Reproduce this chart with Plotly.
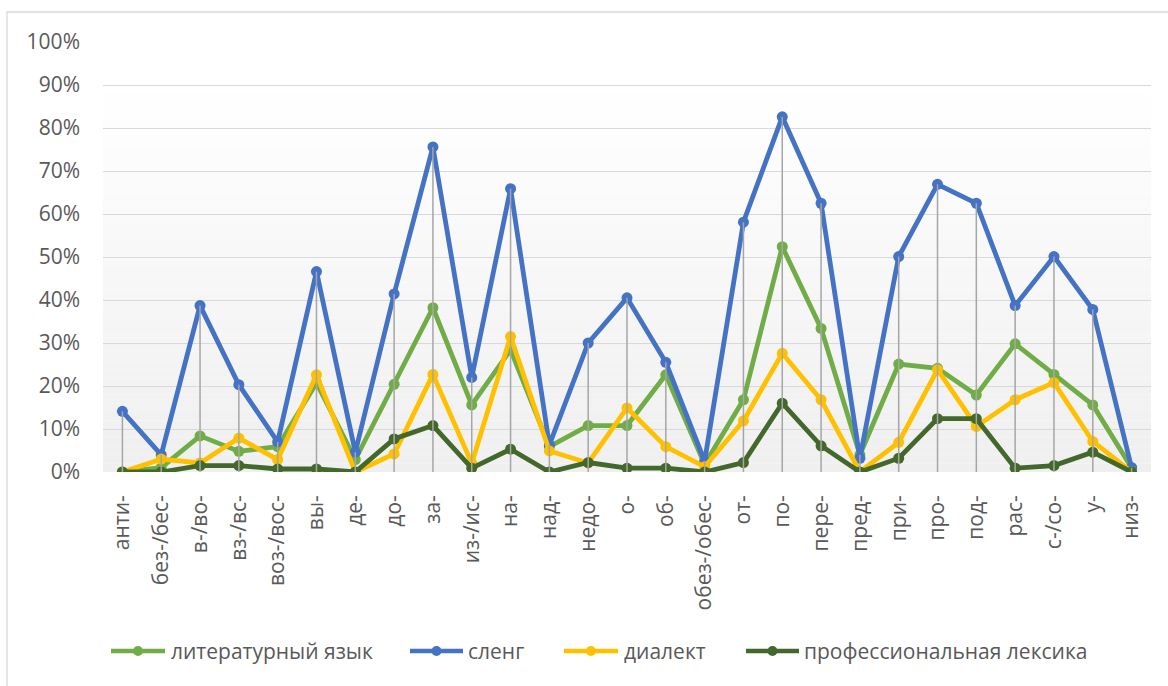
import plotly.graph_objects as go

# Prefix categories
prefixes = ["анти-", "без-/бес-", "в-/во-", "вз-/вс-", "воз-/вос-", "вы-", "де-", "до-", "за-",
            "из-/ис-", "на-", "над-", "недо-", "о-", "об-", "обез-/обес-", "от-", "по-", "пере-",
            "пред-", "при-", "про-", "под-", "рас-", "с-/со-", "у-", "низ-"]

# Share of words per register, %
literary = [0, 1.0, 8.4, 4.8, 5.9, 20.7, 2.9, 20.4, 38.2, 15.6, 28.4, 5.9, 10.8, 10.8, 22.6, 1.8,
            16.8, 52.4, 33.4, 4.0, 25.1, 24.1, 17.9, 29.8, 22.7, 15.6, 1.0]
slang = [14.1, 4.0, 38.7, 20.3, 7.0, 46.6, 4.6, 41.4, 75.6, 22.0, 65.9, 6.3, 30.0, 40.5, 25.5, 2.5,
         58.1, 82.6, 62.5, 3.2, 50.1, 66.9, 62.5, 38.7, 50.1, 37.8, 1.0]
dialect = [0, 3.0, 2.1, 7.9, 2.9, 22.6, 0, 4.2, 22.7, 2.0, 31.5, 4.9, 2.1, 14.9, 5.9, 1.2,
           11.9, 27.6, 16.8, 0, 6.9, 23.8, 10.6, 16.8, 20.8, 7.1, 0]
professional = [0, 0, 1.5, 1.5, 0.7, 0.7, 0, 7.7, 10.8, 0.9, 5.3, 0, 2.2, 0.9, 0.9, 0,
                2.2, 16.0, 6.1, 0, 3.2, 12.4, 12.4, 0.9, 1.5, 4.6, 0]

series_names = ["литературный язык", "сленг", "диалект", "профессиональная лексика"]
series_values = [literary, slang, dialect, professional]
series_colors = ["#70AD47", "#4472C4", "#FFC000", "#43682B"]

y_ticks = [i / 10 for i in range(11)]
y_tick_labels = [f"{i * 10}%" for i in range(11)]

W, H = 1168, 686
ML, MR, MT, MB = 103, 17, 42, 214
PW, PH = W - ML - MR, H - MT - MB
FONT = "Open Sans"
FS = 21
TXT = "#595959"


def px_x(px):
    return (px - ML) / PW


def px_y(py):
    return (H - MB - py) / PH


fig = go.Figure()
x_idx = list(range(len(prefixes)))

for name, vals, col in zip(series_names, series_values, series_colors):
    fig.add_trace(go.Scatter(
        x=x_idx, y=[v / 100 for v in vals], mode="lines+markers", name=name,
        line=dict(color=col, width=4.8), marker=dict(color=col, size=11),
        showlegend=False, hoverinfo="skip"))

# Drop lines from the highest point of each category to the axis
dx, dy = [], []
for i in x_idx:
    top = max(s[i] for s in series_values) / 100
    dx += [i, i, None]
    dy += [top, 0, None]
fig.add_trace(go.Scatter(x=dx, y=dy, mode="lines", line=dict(color="#A6A6A6", width=1.5),
                         showlegend=False, hoverinfo="skip"))

shapes = []
# Plot-area gradient (light grey at the bottom fading to white)
n_bands = 45
g_top = 0.9
for k in range(n_bands):
    y0 = g_top * k / n_bands
    y1 = g_top * (k + 1) / n_bands
    t = (k + 0.5) / n_bands
    c = round(239 + (255 - 239) * t)
    shapes.append(dict(type="rect", xref="x", yref="y", x0=-0.5, x1=len(prefixes) - 0.5,
                       y0=y0, y1=y1, fillcolor=f"rgb({c},{c},{c})", line=dict(width=0),
                       layer="below"))

# Chart border
shapes.append(dict(type="rect", xref="paper", yref="paper", x0=px_x(7), x1=px_x(1175),
                   y0=px_y(692), y1=px_y(12), line=dict(color="#D9D9D9", width=1.3),
                   fillcolor="rgba(0,0,0,0)", layer="above"))

# Legend built from line + marker samples
annotations = []
legend_y = px_y(651)
legend_items = [(111, 165, 169), (410, 463, 466), (564, 618, 622), (746, 799, 802)]
for (lx0, lx1, tx), name, col in zip(legend_items, series_names, series_colors):
    shapes.append(dict(type="line", xref="paper", yref="paper", x0=px_x(lx0), x1=px_x(lx1),
                       y0=legend_y, y1=legend_y, line=dict(color=col, width=4.5)))
    cx = px_x((lx0 + lx1) / 2)
    shapes.append(dict(type="circle", xref="paper", yref="paper", xsizemode="pixel",
                       ysizemode="pixel", xanchor=cx, yanchor=legend_y, x0=-5, x1=5, y0=-5, y1=5,
                       fillcolor=col, line=dict(color=col, width=0)))
    annotations.append(dict(xref="paper", yref="paper", x=px_x(tx), y=legend_y, text=name,
                            showarrow=False, xanchor="left", yanchor="middle",
                            font=dict(family=FONT, size=FS, color=TXT)))

fig.update_layout(
    width=W, height=H,
    margin=dict(l=ML, r=MR, t=MT, b=MB, autoexpand=False),
    paper_bgcolor="white", plot_bgcolor="white",
    font=dict(family=FONT, size=FS, color=TXT),
    shapes=shapes, annotations=annotations,
    xaxis=dict(range=[-0.5, len(prefixes) - 0.5], tickmode="array", tickvals=x_idx,
               ticktext=prefixes, tickangle=-90, showgrid=False, zeroline=False,
               showline=False, ticks="", ticklabelstandoff=18,
               tickfont=dict(family=FONT, size=FS, color=TXT)),
    yaxis=dict(range=[0, 1], tickmode="array", tickvals=y_ticks, ticktext=y_tick_labels,
               showgrid=True, gridcolor="#D9D9D9", gridwidth=1.3, zeroline=False,
               showline=False, ticks="", ticklabelstandoff=22,
               tickfont=dict(family=FONT, size=FS, color=TXT)),
)

fig.write_html("out.html")
